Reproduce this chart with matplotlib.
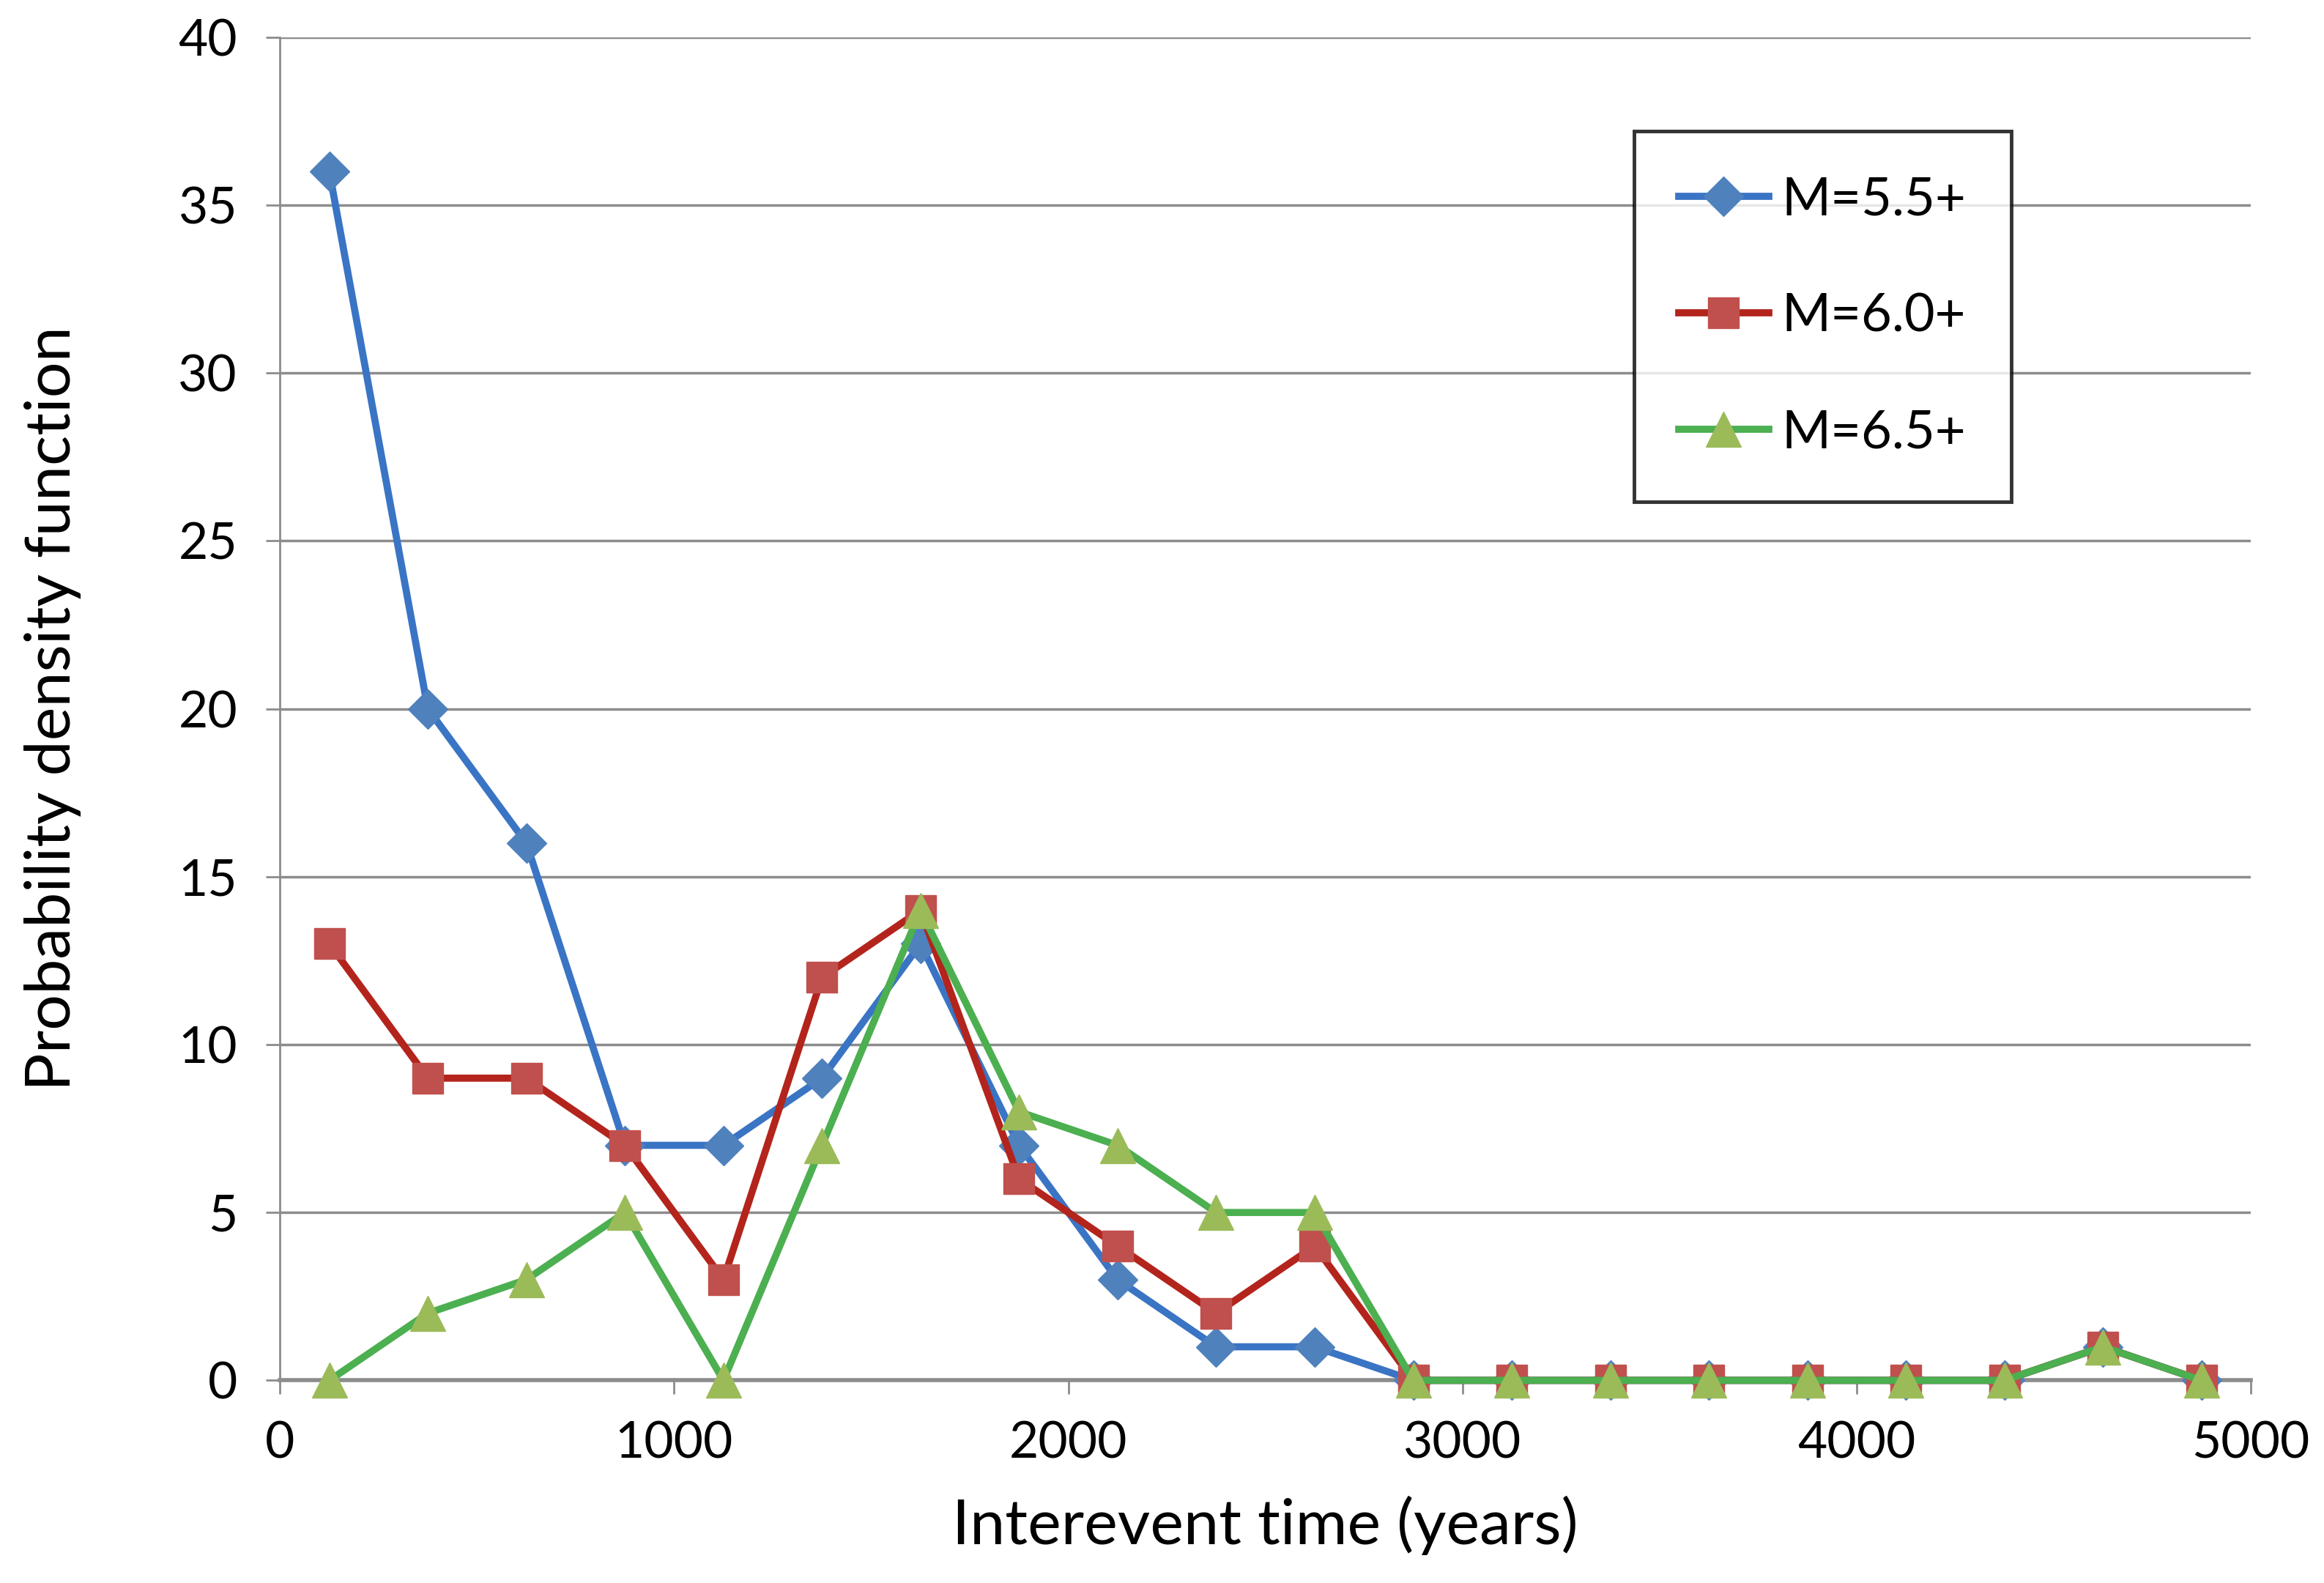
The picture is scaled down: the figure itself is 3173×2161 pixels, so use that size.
import numpy as np
import matplotlib.pyplot as plt

plt.rcParams['font.family'] = ['Lato', 'DejaVu Sans']

# bin centres (years) and pdf values for each magnitude threshold
t = [125, 375, 625, 875, 1125, 1375, 1625, 1875, 2125, 2375,
     2625, 2875, 3125, 3375, 3625, 3875, 4125, 4375, 4625, 4875]
m55 = [36, 20, 16, 7, 7, 9, 13, 7, 3, 1, 1, 0, 0, 0, 0, 0, 0, 0, 1, 0]
m60 = [13, 9, 9, 7, 3, 12, 14, 6, 4, 2, 4, 0, 0, 0, 0, 0, 0, 0, 1, 0]
m65 = [0, 2, 3, 5, 0, 7, 14, 8, 7, 5, 5, 0, 0, 0, 0, 0, 0, 0, 1, 0]

fig = plt.figure(figsize=(31.73, 21.61), dpi=100)
ax = fig.add_axes([0.1205, 0.128, 0.848, 0.8485])

ax.plot(t, m55, color='#3A74C4', lw=7, marker='D', ms=28,
        mfc='#4F81BD', mec='#4F81BD', label='M=5.5+', zorder=3, clip_on=False)
ax.plot(t, m60, color='#B3241C', lw=7, marker='s', ms=30,
        mfc='#C0504D', mec='#C0504D', label='M=6.0+', zorder=4, clip_on=False)
ax.plot(t, m65, color='#4CAF50', lw=7, marker='^', ms=34,
        mfc='#9BBB59', mec='#9BBB59', label='M=6.5+', zorder=5, clip_on=False)

ax.set_xlim(0, 5000)
ax.set_ylim(0, 40)
ax.set_xticks(np.arange(0, 5001, 1000))
ax.set_yticks(np.arange(0, 41, 5))
ax.yaxis.grid(True, color='#8C8C8C', lw=2.5)
ax.set_axisbelow(True)

for s in ['top', 'right']:
    ax.spines[s].set_visible(False)
ax.spines['left'].set_color('#8C8C8C')
ax.spines['left'].set_linewidth(2)
ax.spines['bottom'].set_color('#8C8C8C')
ax.spines['bottom'].set_linewidth(4)
ax.tick_params(axis='both', direction='out', length=14, width=2,
               color='#8C8C8C', labelsize=50)
ax.tick_params(axis='y', pad=28)
ax.tick_params(axis='x', pad=26)

ax.set_xlabel('Interevent time (years)', fontsize=62, labelpad=28)
ax.set_ylabel('Probability density function', fontsize=62, labelpad=95)

leg = ax.legend(loc='upper left', bbox_to_anchor=(0.703, 0.917),
                bbox_transform=fig.transFigure, fontsize=52,
                frameon=True, fancybox=False, borderpad=0.85,
                labelspacing=1.3, handlelength=1.7, handletextpad=0.25,
                borderaxespad=0)
leg.get_frame().set_edgecolor('black')
leg.get_frame().set_linewidth(3.5)

fig.savefig('out.png', dpi=100)
